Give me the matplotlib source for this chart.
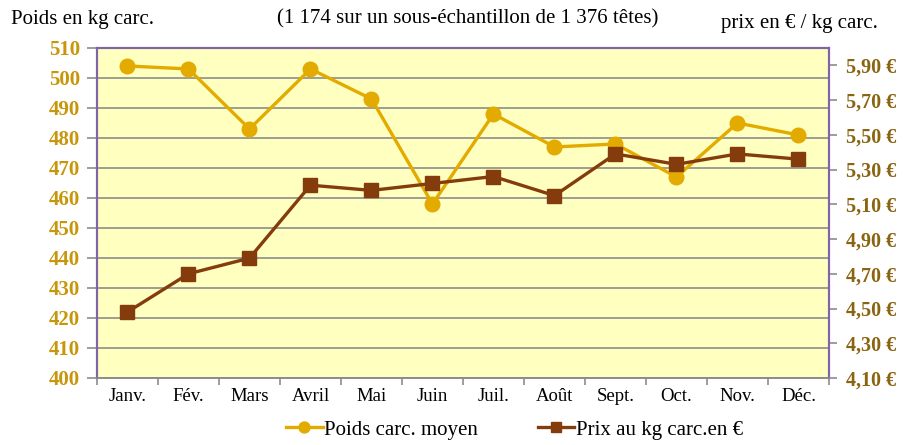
import matplotlib.pyplot as plt
from matplotlib.ticker import FixedLocator, NullFormatter

plt.rcParams['font.family'] = ['Liberation Serif', 'DejaVu Serif']

mois = ['Janv.', 'Fév.', 'Mars', 'Avril', 'Mai', 'Juin',
        'Juil.', 'Août', 'Sept.', 'Oct.', 'Nov.', 'Déc.']
poids = [504, 503, 483, 503, 493, 458, 488, 477, 478, 467, 485, 481]
prix = [4.48, 4.70, 4.79, 5.21, 5.18, 5.22, 5.26, 5.15, 5.39, 5.33, 5.39, 5.36]

poids_ticks = list(range(400, 511, 10))
prix_ticks = [4.10, 4.30, 4.50, 4.70, 4.90, 5.10, 5.30, 5.50, 5.70, 5.90]

gold = '#E3AA00'
brown = '#843C0C'
purple = '#7F64A8'
grid_col = '#8C8C8C'

fig = plt.figure(figsize=(9.04, 4.45), dpi=100)
ax = fig.add_axes([0.1073, 0.1506, 0.8097, 0.7416])
ax.set_facecolor('#FFFFC0')

x = list(range(len(mois)))
l1, = ax.plot(x, poids, color=gold, lw=2.4, marker='o', ms=10.5, zorder=3,
              label='Poids carc. moyen')
ax.set_xlim(-0.5, 11.5)
ax.set_ylim(400, 510)
ax.set_yticks(poids_ticks)
ax.set_yticklabels([str(v) for v in poids_ticks], fontweight='bold',
                   fontsize=15, color='#C8960A')
ax.yaxis.grid(True, color=grid_col, lw=1.2)
ax.set_axisbelow(True)
ax.tick_params(axis='y', colors=grid_col, labelcolor='#C8960A',
               length=7, width=1.2, pad=5)

# category ticks sit between months, labels in the middle
ax.xaxis.set_major_locator(FixedLocator([i - 0.5 for i in range(13)]))
ax.xaxis.set_major_formatter(NullFormatter())
ax.xaxis.set_minor_locator(FixedLocator(x))
ax.set_xticklabels(mois, minor=True)
ax.tick_params(axis='x', which='major', colors=grid_col, length=5, width=1.2)
ax.tick_params(axis='x', which='minor', length=0, labelsize=13.5, pad=7,
               labelcolor='black')

ax2 = ax.twinx()
l2, = ax2.plot(x, prix, color=brown, lw=2.4, marker='s', ms=10, zorder=3,
               label='Prix au kg carc.en €')
ax2.set_ylim(4.10, 6.00)
ax2.set_yticks(prix_ticks)
ax2.set_yticklabels([f'{v:.2f} €'.replace('.', ',') for v in prix_ticks],
                    fontweight='bold', fontsize=14.5, color='#8A6410')
ax2.tick_params(axis='y', colors=grid_col, labelcolor='#8A6410',
                length=6, width=1.2, pad=6)

for a in (ax, ax2):
    for side in ('top', 'left', 'right'):
        a.spines[side].set_color(purple)
        a.spines[side].set_linewidth(1.5)
    a.spines['bottom'].set_color(grid_col)
    a.spines['bottom'].set_linewidth(1.2)

fig.text(0.012, 0.935, 'Poids en kg carc.', fontsize=15, va='bottom')
fig.text(0.517, 0.935, '(1 174 sur un sous-échantillon de 1 376 têtes)',
         fontsize=15, ha='center', va='bottom')
fig.text(0.971, 0.925, 'prix en € / kg carc.', fontsize=15, ha='right',
         va='bottom')

fig.legend(handles=[l1, l2], loc='lower center', ncol=2, frameon=False,
           bbox_to_anchor=(0.569, -0.03), fontsize=15, handlelength=1.75,
           handletextpad=0.05, columnspacing=2.9, markerscale=0.75)

fig.savefig('out.png', dpi=100)
